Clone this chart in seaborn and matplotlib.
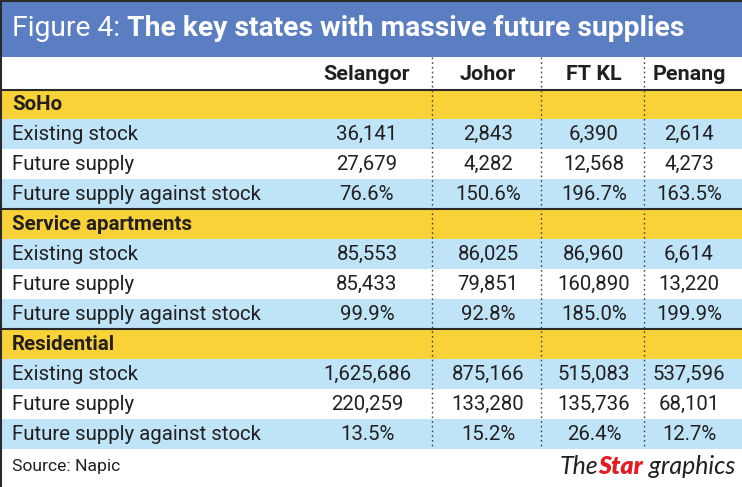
import matplotlib
matplotlib.use("Agg")
import matplotlib.pyplot as plt
import seaborn as sns
import numpy as np
from matplotlib.colors import ListedColormap
from matplotlib.patches import Rectangle

# ---------------- data ----------------
states = ["Selangor", "Johor", "FT KL", "Penang"]
sections = ["SoHo", "Service apartments", "Residential"]
metrics = ["Existing stock", "Future supply", "Future supply against stock"]

soho_existing = [36141, 2843, 6390, 2614]
soho_future = [27679, 4282, 12568, 4273]
soho_ratio = [76.6, 150.6, 196.7, 163.5]

sa_existing = [85553, 86025, 86960, 6614]
sa_future = [85433, 79851, 160890, 13220]
sa_ratio = [99.9, 92.8, 185.0, 199.9]

res_existing = [1625686, 875166, 515083, 537596]
res_future = [220259, 133280, 135736, 68101]
res_ratio = [13.5, 15.2, 26.4, 12.7]

title_light = "Figure 4:"
title_bold = "The key states with massive future supplies"
source_text = "Source: Napic"
logo_parts = ["The", "Star", "graphics"]

# ---------------- style ----------------
sns.set_theme(style="white")
plt.rcParams['font.family'] = ['Roboto', 'DejaVu Sans']

BLUE = "#5b7ec2"
YELLOW = "#f9d237"
LIGHT = "#bfe4f8"
TEXT = "#231f20"
LINE = "#2a2a2a"
RED = "#e31b23"

W, H = 742, 487
fig = plt.figure(figsize=(W / 100, H / 100), dpi=100)
fig.patch.set_facecolor("white")

title_bottom = 57
header_bottom = 89.5
table_bottom = 449
seps = [432, 541, 644]
col_centers = [367, 488, 594, 689]
label_x = 12

# build body rows
blocks = [
    (sections[0], [soho_existing, soho_future, soho_ratio]),
    (sections[1], [sa_existing, sa_future, sa_ratio]),
    (sections[2], [res_existing, res_future, res_ratio]),
]
rows = []
for sec, vals in blocks:
    rows.append(("section", sec, None))
    for k, (m, v) in enumerate(zip(metrics, vals)):
        if k == 2:
            txt = [f"{x:.1f}%" for x in v]
        else:
            txt = [f"{x:,}" for x in v]
        rows.append(("a" if k % 2 == 0 else "b", m, txt))

codes = np.array([[2 if r[0] == "section" else (1 if r[0] == "a" else 0)] for r in rows])
n = len(rows)
rh = (table_bottom - header_bottom) / n

# background bands via seaborn heatmap
body_ax = fig.add_axes([0, 1 - table_bottom / H, 1, (table_bottom - header_bottom) / H])
sns.heatmap(codes, ax=body_ax, cmap=ListedColormap(["white", LIGHT, YELLOW]),
            vmin=-0.5, vmax=2.5, cbar=False, xticklabels=False, yticklabels=False,
            linewidths=0)
body_ax.set_axis_off()

# overlay in pixel coordinates
ov = fig.add_axes([0, 0, 1, 1])
ov.set_xlim(0, W)
ov.set_ylim(H, 0)
ov.set_axis_off()
ov.patch.set_alpha(0)

renderer = fig.canvas.get_renderer()


def tw(s, size, **kw):
    t = ov.text(0, 0, s, fontsize=size, **kw)
    w = t.get_window_extent(renderer).width
    t.remove()
    return w


# title band
ov.add_patch(Rectangle((0, 0), W, title_bottom, color=BLUE, lw=0, zorder=1))
base = 20
w1 = tw(title_light + " ", base, fontweight="normal")
w2 = tw(title_bold, base, fontweight="bold")
ts = base * 672 / (w1 + w2)
w1 = tw(title_light + " ", ts, fontweight="normal")
ov.text(label_x, 29, title_light + " ", fontsize=ts, fontweight="normal", color="white",
        va="center", ha="left", zorder=5)
ov.text(label_x + w1, 29, title_bold, fontsize=ts, fontweight="bold", color="white",
        va="center", ha="left", zorder=5)

# sizes fitted to measured widths
body_size = 14 * 250 / tw("Future supply against stock", 14)
head_size = 13 * 86 / tw("Selangor", 13, fontweight="bold")
sec_size = 14 * 180 / tw("Service apartments", 14, fontweight="bold")

# header
hy = (title_bottom + header_bottom) / 2 + 1
for s, cx in zip(states, col_centers):
    ov.text(cx, hy, s, fontsize=head_size, fontweight="bold", color=TEXT,
            ha="center", va="center", zorder=5)

# body text
for i, (kind, label, vals) in enumerate(rows):
    cy = header_bottom + (i + 0.5) * rh
    if kind == "section":
        ov.text(label_x, cy, label, fontsize=sec_size, fontweight="bold", color=TEXT,
                ha="left", va="center", zorder=5)
    else:
        ov.text(label_x, cy, label, fontsize=body_size, color=TEXT,
                ha="left", va="center", zorder=5)
        for v, cx in zip(vals, col_centers):
            ov.text(cx, cy, v, fontsize=body_size, color=TEXT,
                    ha="center", va="center", zorder=5)

# horizontal rules
for yy in [header_bottom, header_bottom + 4 * rh, header_bottom + 8 * rh]:
    ov.plot([0, W], [yy, yy], color=LINE, lw=1.5, zorder=4, solid_capstyle="butt")

# dotted separators
ov.vlines(seps, title_bottom, table_bottom, colors="#444444", lw=1.0,
          linestyles=(0, (1.2, 2.2)), zorder=4)

# outer border (left & top)
ov.plot([0.75, 0.75], [0, H], color=LINE, lw=1.5, zorder=6)
ov.plot([0, W], [0.75, 0.75], color=LINE, lw=1.5, zorder=6)

# footer
ov.text(label_x, 467, source_text, fontsize=body_size * 0.86, color=TEXT,
        ha="left", va="center", zorder=5)

lb = 13
fam = ["Lato", "DejaVu Sans"]
wa = tw(logo_parts[0], lb, family=fam, style="italic")
wb = tw(logo_parts[1], lb, family=fam, style="italic", fontweight="heavy")
wc = tw(" " + logo_parts[2], lb, family=fam, style="italic")
ls = lb * 175 / (wa + wb + wc)
wa = tw(logo_parts[0], ls, family=fam, style="italic")
wb = tw(logo_parts[1], ls, family=fam, style="italic", fontweight="heavy")
x0 = 560
by = 474
ov.text(x0, by, logo_parts[0], fontsize=ls, family=fam, style="italic", color=TEXT,
        va="baseline", ha="left", zorder=5)
ov.text(x0 + wa, by, logo_parts[1], fontsize=ls, family=fam, style="italic",
        fontweight="heavy", color=RED, va="baseline", ha="left", zorder=5)
ov.text(x0 + wa + wb, by, " " + logo_parts[2], fontsize=ls, family=fam, style="italic",
        color=TEXT, va="baseline", ha="left", zorder=5)

fig.savefig("out.png", dpi=100, facecolor="white")
